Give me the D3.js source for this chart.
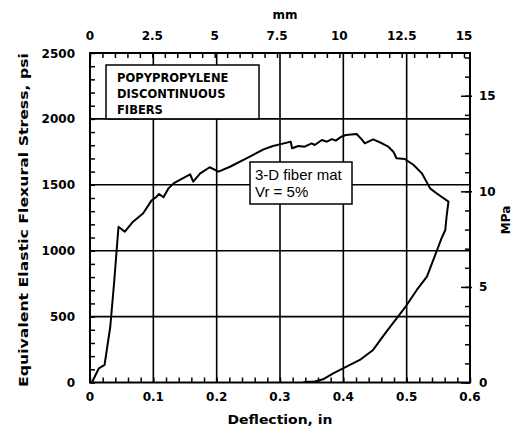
<!DOCTYPE html>
<html><head><meta charset="utf-8">
<script src="https://cdn.jsdelivr.net/npm/d3@7"></script>
<style>body{margin:0;background:#fff}svg{display:block}</style>
</head><body>
<script>
// Data: deflection (in) vs equivalent elastic flexural stress (psi)
const deflection = [0.003,0.014,0.023,0.032,0.038,0.045,0.055,0.068,0.084,0.097,0.104,0.109,0.116,0.124,0.132,0.139,0.158,0.163,0.174,0.189,0.203,0.221,0.247,0.274,0.289,0.311,0.317,0.319,0.329,0.339,0.350,0.355,0.366,0.374,0.382,0.388,0.397,0.404,0.421,0.429,0.434,0.447,0.461,0.471,0.479,0.484,0.497,0.511,0.524,0.537,0.547,0.566,0.563,0.561,0.555,0.547,0.532,0.516,0.499,0.482,0.466,0.447,0.426,0.405,0.384,0.368,0.355,0.337];
const stress = [0,108,133,423,753,1182,1144,1220,1284,1380,1405,1430,1405,1473,1511,1529,1580,1524,1587,1633,1600,1637,1701,1769,1794,1820,1827,1777,1794,1789,1815,1802,1840,1827,1847,1835,1865,1878,1885,1845,1815,1845,1815,1789,1751,1701,1696,1650,1587,1473,1436,1372,1258,1157,1094,992,803,702,580,474,373,247,171,120,70,24,8,3];
const xTicks = [0,0.1,0.2,0.3,0.4,0.5,0.6];
const yTicks = [0,500,1000,1500,2000,2500];
const mmTicks = [0,2.5,5,7.5,10,12.5,15];
const mpaTicks = [0,5,10,15];
const boxText1 = ["POPYPROPYLENE","DISCONTINUOUS","FIBERS"];
const boxText2 = ["3-D fiber mat","Vr = 5%"];

const W=517,H=429;
const L=90,R=470,T=53,B=382.5;
const svg=d3.select("body").append("svg").attr("width",W).attr("height",H);
const x=d3.scaleLinear().domain([0,0.6]).range([L,R]);
const y=d3.scaleLinear().domain([0,2500]).range([B,T]);
const xmm=d3.scaleLinear().domain([0,0.6*25.4]).range([L,R]);
const ympa=d3.scaleLinear().domain([0,2500*0.00689476]).range([B,T]);
const font="DejaVu Sans, Verdana, sans-serif";
const font2="Liberation Sans, Arial, Helvetica, sans-serif";

// grid
const g=svg.append("g").attr("stroke","#000").attr("stroke-width",1.6);
xTicks.slice(1,-1).forEach(v=>g.append("line").attr("x1",x(v)).attr("x2",x(v)).attr("y1",T).attr("y2",B));
yTicks.slice(1,-1).forEach(v=>g.append("line").attr("x1",L).attr("x2",R).attr("y1",y(v)).attr("y2",y(v)));

// minor ticks via axes
const tk=svg.append("g");
tk.append("g").attr("transform",`translate(0,${B})`)
  .call(d3.axisTop(x).tickValues(d3.range(0,0.6001,0.02)).tickSize(5).tickFormat(""));
tk.append("g").attr("transform",`translate(${L},0)`)
  .call(d3.axisRight(y).tickValues(d3.range(0,2501,100)).tickSize(5).tickFormat(""));
tk.append("g").attr("transform",`translate(0,${T})`)
  .call(d3.axisBottom(xmm).tickValues(d3.range(0,15.01,0.5)).tickSize(5).tickFormat(""));
tk.append("g").attr("transform",`translate(${R},0)`)
  .call(d3.axisLeft(ympa).tickValues(d3.range(0,17.1,1)).tickSize(5).tickFormat(""));
tk.append("g").attr("transform",`translate(${R},0)`)
  .call(d3.axisLeft(ympa).tickValues(mpaTicks).tickSize(9).tickFormat(""));
tk.append("g").attr("transform",`translate(${R},0)`)
  .call(d3.axisRight(ympa).tickValues(mpaTicks.slice(1)).tickSize(2).tickFormat(""));
tk.selectAll(".domain").remove();
tk.selectAll("line").attr("stroke","#000").attr("stroke-width",1.5);

// tick labels
const lab=svg.append("g").attr("font-family",font).attr("font-weight","bold").attr("font-size",12).attr("fill","#000");
xTicks.forEach(v=>lab.append("text").attr("x",x(v)).attr("y",401).attr("text-anchor","middle").text(v===0?"0":d3.format(".1f")(v)));
yTicks.forEach(v=>lab.append("text").attr("x",75).attr("y",y(v)+4.5).attr("text-anchor","end").text(v));
mmTicks.forEach(v=>lab.append("text").attr("x",xmm(v)).attr("y",40).attr("text-anchor","middle").text(v));
mpaTicks.forEach(v=>lab.append("text").attr("x",479).attr("y",ympa(v)+4.5).attr("text-anchor","start").text(v));

// axis titles
lab.append("text").attr("x",280).attr("y",424).attr("text-anchor","middle").attr("textLength",105).attr("lengthAdjust","spacingAndGlyphs").text("Deflection,  in");
lab.append("text").attr("x",285).attr("y",19).attr("text-anchor","middle").text("mm");
lab.append("text").attr("transform","translate(28,220) rotate(-90)").attr("text-anchor","middle").attr("textLength",334).attr("lengthAdjust","spacingAndGlyphs").text("Equivalent Elastic Flexural Stress, psi");
lab.append("text").attr("transform","translate(510,220) rotate(-90)").attr("text-anchor","middle").text("MPa");

// curve
const pts=deflection.map((d,i)=>[d,stress[i]]);
svg.append("path").datum(pts).attr("fill","none").attr("stroke","#000").attr("stroke-width",2).attr("stroke-linejoin","round")
  .attr("d",d3.line().x(d=>x(d[0])).y(d=>y(d[1])));

// frame
svg.append("rect").attr("x",L).attr("y",T).attr("width",R-L).attr("height",B-T).attr("fill","none").attr("stroke","#000").attr("stroke-width",2);

// annotation box 1
svg.append("rect").attr("x",106).attr("y",65).attr("width",153).attr("height",y(2000)-65).attr("fill","#fff").attr("stroke","#000").attr("stroke-width",1.5);
const t1=svg.append("g").attr("font-family",font).attr("font-weight","bold").attr("font-size",11.5).attr("fill","#000");
boxText1.forEach((s,i)=>t1.append("text").attr("x",117).attr("y",82+i*16).text(s));

// annotation box 2
svg.append("rect").attr("x",250).attr("y",162).attr("width",102).attr("height",42).attr("fill","#fff").attr("stroke","#000").attr("stroke-width",1.5);
const t2=svg.append("g").attr("font-family",font2).attr("font-size",15).attr("fill","#000");
boxText2.forEach((s,i)=>t2.append("text").attr("x",255).attr("y",180+i*17).text(s));
</script>
</body></html>
